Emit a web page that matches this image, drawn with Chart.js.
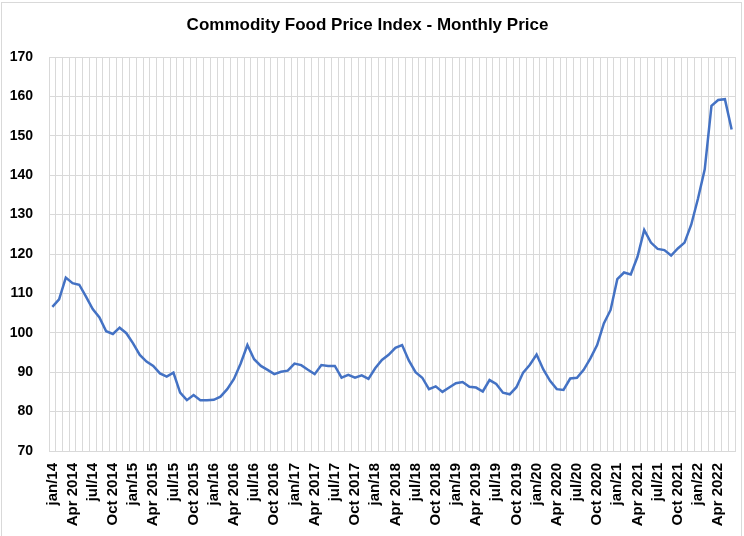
<!DOCTYPE html>
<html>
<head>
<meta charset="utf-8">
<script src="https://cdn.jsdelivr.net/npm/chart.js@4.4.0/dist/chart.umd.min.js"></script>
<style>
  html, body { margin: 0; padding: 0; background: #fff; }
  #wrap { position: relative; width: 744px; height: 536px; overflow: hidden; }
  #frame { position: absolute; left: 1px; top: 2px; width: 739px; height: 560px; border: 1px solid #d9d9d9; }
  canvas { position: absolute; left: 0; top: 0; }
</style>
</head>
<body>
<div id="wrap">
  <div id="frame"></div>
  <canvas id="foodChart" width="744" height="536"></canvas>
</div>
<script>
// データ
const years = [2014, 2015, 2016, 2017, 2018, 2019, 2020, 2021, 2022];
const monthNames = ['Jan', 'Feb', 'Mar', 'Apr', 'May', 'Jun', 'Jul', 'Aug', 'Sep', 'Oct', 'Nov', 'Dec'];

// 3か月ごとに表示する軸ラベル
const tickLabels = [
  'jan/14', 'Apr 2014', 'jul/14', 'Oct 2014',
  'jan/15', 'Apr 2015', 'jul/15', 'Oct 2015',
  'jan/16', 'Apr 2016', 'jul/16', 'Oct 2016',
  'jan/17', 'Apr 2017', 'jul/17', 'Oct 2017',
  'jan/18', 'Apr 2018', 'jul/18', 'Oct 2018',
  'jan/19', 'Apr 2019', 'jul/19', 'Oct 2019',
  'jan/20', 'Apr 2020', 'jul/20', 'Oct 2020',
  'jan/21', 'Apr 2021', 'jul/21', 'Oct 2021',
  'jan/22', 'Apr 2022'
];

// 月次価格指数 (2014年1月〜2022年6月)
const priceIndex = [
  106.6, 108.5, 114.0, 112.6, 112.2, 109.2, 106.0, 103.9, 100.4, 99.7, 101.3, 99.9,
  97.3, 94.4, 92.7, 91.6, 89.7, 88.9, 89.9, 84.8, 82.9, 84.2, 82.9, 82.9,
  83.0, 83.8, 85.7, 88.3, 92.2, 96.9, 93.3, 91.6, 90.6, 89.5, 90.1, 90.4,
  92.2, 91.8, 90.6, 89.5, 91.8, 91.6, 91.6, 88.6, 89.3, 88.6, 89.2, 88.3,
  91.0, 93.1, 94.4, 96.2, 96.9, 93.0, 90.0, 88.6, 85.7, 86.4, 85.0, 86.1,
  87.2, 87.5, 86.3, 86.1, 85.1, 88.0, 87.0, 84.8, 84.4, 86.2, 89.9, 91.9,
  94.5, 90.7, 87.8, 85.7, 85.5, 88.4, 88.6, 90.6, 93.5, 96.9, 102.4, 105.8,
  113.6, 115.3, 114.8, 119.3, 126.1, 122.9, 121.3, 121.0, 119.6, 121.4, 122.9, 127.5,
  134.1, 141.5, 157.6, 159.1, 159.3, 151.6
];

// カテゴリ（月）を作成
const categories = [];
years.forEach(function (y) {
  monthNames.forEach(function (m) {
    if (categories.length < priceIndex.length) categories.push(m + ' ' + y);
  });
});

const gridColor = '#d9d9d9';
const fontFamily = '"Liberation Sans", Arial, sans-serif';

const ctx = document.getElementById('foodChart').getContext('2d');
new Chart(ctx, {
  type: 'line',
  data: {
    labels: categories,
    datasets: [{
      label: 'Commodity Food Price Index',
      data: priceIndex,
      borderColor: '#4472c4',
      borderWidth: 2.5,
      pointRadius: 0,
      tension: 0,
      fill: false
    }]
  },
  options: {
    responsive: false,
    animation: false,
    layout: { padding: { left: 0, right: 9, top: 0, bottom: 0 } },
    plugins: {
      legend: { display: false },
      tooltip: { enabled: false },
      title: {
        display: true,
        text: 'Commodity Food Price Index - Monthly Price',
        color: '#000',
        font: { family: fontFamily, size: 17, weight: 'bold', lineHeight: 1.2 },
        padding: { top: 15, bottom: 21.6 }
      }
    },
    scales: {
      x: {
        type: 'category',
        offset: true,
        grid: { color: gridColor, lineWidth: 1, offset: true, drawTicks: false },
        border: { color: gridColor },
        ticks: {
          autoSkip: false,
          minRotation: 90,
          maxRotation: 90,
          padding: 12,
          color: '#000',
          font: { family: fontFamily, size: 15, weight: 'bold' },
          callback: function (value, index) {
            return index % 3 === 0 ? tickLabels[index / 3] : '';
          }
        },
        afterFit: function (scale) {
          scale.height = 85;
          // ラベル分の余白を追加しない
          scale.paddingLeft = 0;
          scale.paddingRight = 0;
        }
      },
      y: {
        min: 70,
        max: 170,
        grid: { color: gridColor, lineWidth: 1, drawTicks: false },
        border: { color: gridColor },
        ticks: {
          stepSize: 10,
          padding: 16,
          color: '#000',
          font: { family: fontFamily, size: 14, weight: 'bold' }
        },
        afterFit: function (scale) { scale.width = 49; }
      }
    }
  }
});
</script>
</body>
</html>
